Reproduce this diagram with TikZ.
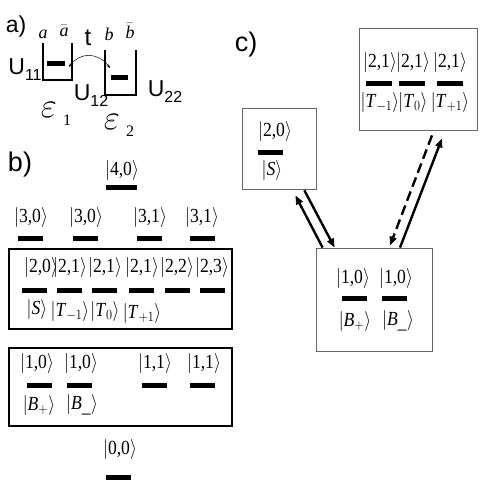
\RequirePackage{fix-cm}
\documentclass[tikz,border=0pt]{standalone}
\usepackage{graphicx}
\usepackage{fontspec}
\setmainfont{Liberation Serif}
\newfontfamily\sfont{Liberation Sans}
\usetikzlibrary{calc,arrows.meta}
\newcommand\kt[1]{\scalebox{0.88}[1]{$\left|\rule[-5pt]{0pt}{19pt}\mbox{#1}\right\rangle$}}
\begin{document}
\begin{tikzpicture}[x=1pt,y=-1pt,
  ket/.style={inner sep=0pt, font=\fontsize{20}{20}\selectfont},
  lvl/.style={fill=black, inner sep=0pt, minimum width=25pt, minimum height=5pt},
  bbox/.style={draw, line width=1.6pt, inner sep=0pt},
  cbox/.style={draw=black!60, line width=0.8pt, inner sep=0pt},
  lab/.style={font=\sfont\fontsize{27}{27}\selectfont, inner sep=0pt},
  ulab/.style={font=\sfont\fontsize{23}{23}\selectfont, inner sep=0pt},
  lett/.style={font=\fontsize{18}{18}\selectfont\itshape, inner sep=0pt},
  well/.style={line width=1.3pt},
  arr/.style={line width=2.4pt, -{Triangle[length=9pt,width=7pt]}}]
\useasboundingbox (0,0) rectangle (485,485);
% ---------- a)
\node[lab, font=\sfont\fontsize{23}{23}\selectfont] (la) at (16,27) {a)};
\node[lett] (ta) at (43,34) {a};
\node[lett] (tab) at (64,31) {$\bar{\mbox{\textit{a}}}$};
\node[ulab, font=\sfont\fontsize{24}{24}\selectfont] (tt) at (88,38) {t};
\node[lett] (tb) at (109,34) {b};
\node[lett] (tbb) at (130,31) {$\bar{\mbox{\textit{b}}}$};
\draw[well] (43,43) -- (43,80) -- (72,80) -- (72,43);
\draw[well] (105,50) -- (105,95) -- (136,95) -- (136,50);
\node[lvl, minimum width=18pt] (w1) at (56,63) {};
\node[lvl, minimum width=17pt] (w2) at (119.5,77) {};
\coordinate (c1) at (69,67);
\coordinate (c2) at (110,68);
\draw[line width=0.5pt, {Stealth[length=4pt,width=3pt]}-{Stealth[length=4pt,width=3pt]}] (c1) .. controls (80,52) and (98,52) .. (c2);
\node[ulab] (u11) at (25,70) {U\raisebox{-6pt}{\fontsize{16}{16}\selectfont 11}};
\node[ulab] (u12) at (91,96) {U\raisebox{-6pt}{\fontsize{16}{16}\selectfont 12}};
\node[ulab] (u22) at (165,92) {U\raisebox{-6pt}{\fontsize{16}{16}\selectfont 22}};
\node[inner sep=0pt, font=\fontsize{35}{35}\selectfont] (e1) at (49,110) {$\varepsilon$};
\node[inner sep=0pt, font=\fontsize{16}{16}\selectfont] (e1s) at (67,120) {1};
\node[inner sep=0pt, font=\fontsize{35}{35}\selectfont] (e2) at (112,122) {$\varepsilon$};
\node[inner sep=0pt, font=\fontsize{16}{16}\selectfont] (e2s) at (130,131) {2};
% ---------- b)
\node[lab] (lb) at (20,165) {b)};
\node[ket] (k40) at (122,170) {\kt{4,0}};
\node[lvl, minimum width=31pt] (l40) at (121.5,187) {};
\node[ket] (k30a) at (31,217) {\kt{3,0}};
\node[ket] (k30b) at (86,217) {\kt{3,0}};
\node[ket] (k31a) at (150,217) {\kt{3,1}};
\node[ket] (k31b) at (202,217) {\kt{3,1}};
\node[lvl] (l30a) at (30.5,238) {};
\node[lvl] (l30b) at (85.5,238) {};
\node[lvl] (l31a) at (149,238) {};
\node[lvl] (l31b) at (202,238) {};
\node[bbox, minimum width=223pt, minimum height=80pt] (box2) at (120.5,289) {};
\node[ket] (k20) at (41,267) {\kt{2,0}};
\node[ket] (k21a) at (70,267) {\kt{2,1}};
\node[ket] (k21b) at (105,267) {\kt{2,1}};
\node[ket] (k21c) at (142,267) {\kt{2,1}};
\node[ket] (k22) at (177,267) {\kt{2,2}};
\node[ket] (k23) at (212,267) {\kt{2,3}};
\node[lvl] (l20) at (34.5,290) {};
\node[lvl] (l21a) at (69,290) {};
\node[lvl] (l21b) at (104.5,290) {};
\node[lvl] (l21c) at (141.5,290) {};
\node[lvl] (l22) at (177.5,290) {};
\node[lvl] (l23) at (212,290) {};
\node[ket] (kS) at (37,309) {\kt{\textit{S}}};
\node[ket] (kTm) at (70,311) {\kt{\textit{T}$_{-1}$}};
\node[ket] (kT0) at (105,311) {\kt{\textit{T}$_{0}$}};
\node[ket] (kTp) at (142,313) {\kt{\textit{T}$_{+1}$}};
\node[bbox, minimum width=223pt, minimum height=78pt] (box1) at (120.5,387) {};
\node[ket] (k10a) at (37,363) {\kt{1,0}};
\node[ket] (k10b) at (81,363) {\kt{1,0}};
\node[ket] (k11a) at (155,363) {\kt{1,1}};
\node[ket] (k11b) at (204,363) {\kt{1,1}};
\node[lvl] (l10a) at (39,385) {};
\node[lvl] (l10b) at (79.5,385) {};
\node[lvl] (l11a) at (154,385) {};
\node[lvl] (l11b) at (202.5,385) {};
\node[ket] (kBp) at (39,405) {\kt{\textit{B}$_{+}$}};
\node[ket] (kBm) at (82,405) {\kt{\textit{B}$_{\_}$}};
\node[ket] (k00) at (120,449) {\kt{0,0}};
\node[lvl] (l00) at (118.5,477) {};
% ---------- c)
\node[lab] (lc) at (246,45) {c)};
\node[cbox, minimum width=118pt, minimum height=102pt] (T) at (418,79) {};
\node[ket] (cT1) at (380,62) {\kt{2,1}};
\node[ket] (cT2) at (413,62) {\kt{2,1}};
\node[ket] (cT3) at (450,62) {\kt{2,1}};
\node[lvl, minimum width=26pt] (cl1) at (379,83) {};
\node[lvl, minimum width=26pt] (cl2) at (412,83) {};
\node[lvl, minimum width=26pt] (cl3) at (449.5,83) {};
\node[ket] (cTm) at (380,102) {\kt{\textit{T}$_{-1}$}};
\node[ket] (cT0) at (413,102) {\kt{\textit{T}$_{0}$}};
\node[ket] (cTp) at (450,102) {\kt{\textit{T}$_{+1}$}};
\node[cbox, minimum width=74pt, minimum height=81pt] (S) at (279,148.5) {};
\node[ket] (cS20) at (275,131) {\kt{2,0}};
\node[lvl] (clS) at (270.5,152) {};
\node[ket] (cS) at (272,170) {\kt{\textit{S}}};
\node[cbox, minimum width=116pt, minimum height=103pt] (B) at (374,299.5) {};
\node[ket] (cB1) at (353,278) {\kt{1,0}};
\node[ket] (cB2) at (396,278) {\kt{1,0}};
\node[lvl] (clB1) at (354.5,298) {};
\node[lvl] (clB2) at (394.5,298) {};
\node[ket] (cBp) at (355,321) {\kt{\textit{B}$_{+}$}};
\node[ket] (cBm) at (398,321) {\kt{\textit{B}$_{\_}$}};
% arrows
\draw[arr] ($(B.north west)+(7,0)$) -- ($(S.south east)+(-21,6)$);
\draw[arr] ($(S.south east)+(-12,1)$) -- ($(B.north west)+(19,0)$);
\draw[arr, dash pattern=on 10pt off 5pt] ($(T.south)+(14,5)$) -- ($(B.north)+(16,-2)$);
\draw[arr] ($(B.north)+(26,0)$) -- ($(T.south)+(24,8)$);
\end{tikzpicture}
\end{document}
